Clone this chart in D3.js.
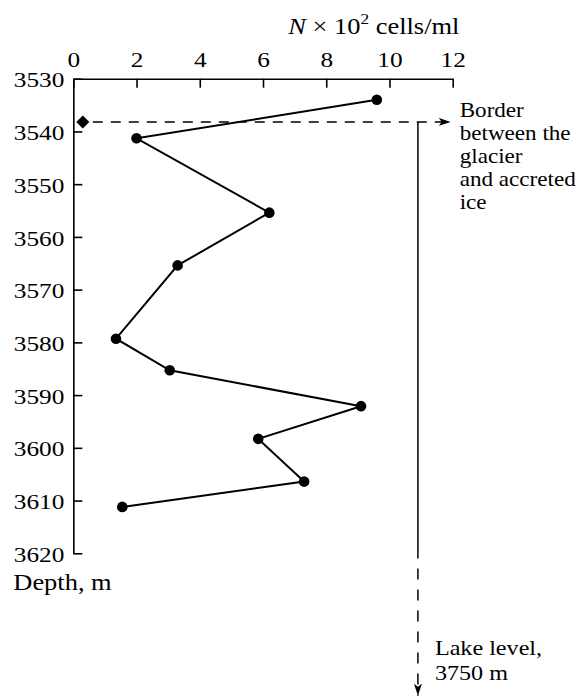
<!DOCTYPE html>
<html>
<head>
<meta charset="utf-8">
<script src="https://cdn.jsdelivr.net/npm/d3@7"></script>
<style>
  body { margin: 0; background: #fff; }
</style>
</head>
<body>
<div id="wrapper"></div>
<script>
  // DATA
  const cellCounts = [9.6, 2.0, 6.2, 3.3, 1.35, 3.05, 9.1, 5.85, 7.3, 1.55]
  const depths = [3534.0, 3541.3, 3555.4, 3565.4, 3579.3, 3585.3, 3592.1, 3598.3, 3606.4, 3611.2]
  const xTicks = [0, 2, 4, 6, 8, 10, 12]
  const yTicks = [3530, 3540, 3550, 3560, 3570, 3580, 3590, 3600, 3610, 3620]
  const borderDepth = 3538.2
  const borderMarkerX = 0.3
  const lakeLineX = 10.9
  const lakeSolidEnd = 3621
  const lakeArrowEnd = 3647
  const borderLabel = ["Border", "between the", "glacier", "and accreted", "ice"]
  const lakeLabel = ["Lake level,", "3750 m"]

  const dataset = cellCounts.map((n, i) => ({ n: n, depth: depths[i] }))
  const xAccessor = d => d.n
  const yAccessor = d => d.depth

  const serif = "'Liberation Serif', 'Times New Roman', 'DejaVu Serif', serif"
  // the scanned typeface is a bit wider than Liberation Serif
  const stretchX = 1.15

  // squeeze x attrs so a horizontal scale keeps the anchor point in place
  function stretch(sel, sx) {
    sel.each(function () {
      const t = d3.select(this)
      t.attr("x", (+t.attr("x") || 0) / sx)
        .attr("transform", `scale(${sx},1)`)
      t.selectAll("tspan").each(function () {
        const s = d3.select(this)
        if (s.attr("x") !== null) s.attr("x", +s.attr("x") / sx)
      })
    })
  }

  // DIMENSIONS
  const dimensions = {
    width: 582,
    height: 698,
    margin: { top: 78.7, right: 129.3, bottom: 144.7, left: 73.3 }
  }
  dimensions.boundedWidth = dimensions.width - dimensions.margin.left - dimensions.margin.right
  dimensions.boundedHeight = dimensions.height - dimensions.margin.top - dimensions.margin.bottom

  const wrapper = d3.select("#wrapper").append("svg")
    .attr("width", dimensions.width)
    .attr("height", dimensions.height)
    .style("font-family", serif)

  const defs = wrapper.append("defs")
  defs.append("marker")
    .attr("id", "arrow")
    .attr("viewBox", "0 0 12 8")
    .attr("refX", 12)
    .attr("refY", 4)
    .attr("markerWidth", 12)
    .attr("markerHeight", 8)
    .attr("markerUnits", "userSpaceOnUse")
    .attr("orient", "auto")
    .append("path")
    .attr("d", "M0,0 L12,4 L0,8 L3,4 Z")
    .attr("fill", "#000")

  const bounds = wrapper.append("g")
    .attr("transform", `translate(${dimensions.margin.left},${dimensions.margin.top})`)

  // SCALES
  const xScale = d3.scaleLinear()
    .domain([0, 12])
    .range([0, dimensions.boundedWidth])

  const yScale = d3.scaleLinear()
    .domain([3530, 3620])
    .range([0, dimensions.boundedHeight])

  // AXES
  const xAxisGenerator = d3.axisTop(xScale)
    .tickValues(xTicks)
    .tickSizeInner(-9)
    .tickSizeOuter(0)
    .tickPadding(12)
    .tickFormat(d3.format("d"))

  const yAxisGenerator = d3.axisLeft(yScale)
    .tickValues(yTicks)
    .tickSizeInner(-9)
    .tickSizeOuter(0)
    .tickPadding(9)
    .tickFormat(d3.format("d"))

  const xAxis = bounds.append("g").call(xAxisGenerator)
  const yAxis = bounds.append("g").call(yAxisGenerator)

  for (const axis of [xAxis, yAxis]) {
    axis.attr("font-family", null).attr("font-size", null)
    axis.selectAll(".tick line").attr("stroke-width", 1.6)
    axis.select(".domain").attr("stroke-width", 1.6)
    axis.selectAll(".tick text")
      .style("font-family", serif)
      .style("font-size", "22px")
      .attr("fill", "#000")
    stretch(axis.selectAll(".tick text"), stretchX)
  }
  yAxis.selectAll(".tick text").attr("dy", "0.37em")

  // x title
  const xTitle = bounds.append("text")
    .attr("x", xScale(6.8))
    .attr("y", -45)
    .style("font-size", "23px")
  xTitle.append("tspan").attr("font-style", "italic").text("N")
  xTitle.append("tspan").text(" \u00d7 10")
  xTitle.append("tspan").attr("dy", -10).style("font-size", "15px").text("2")
  xTitle.append("tspan").attr("dy", 10).text(" cells/ml")
  stretch(xTitle, stretchX)

  // y title
  const yTitle = bounds.append("text")
    .attr("x", -60)
    .attr("y", dimensions.boundedHeight + 37)
    .style("font-size", "23px")
    .text("Depth, m")
  stretch(yTitle, stretchX)

  // DATA LINE
  const lineGenerator = d3.line()
    .x(d => xScale(xAccessor(d)))
    .y(d => yScale(yAccessor(d)))

  bounds.append("path")
    .datum(dataset)
    .attr("d", lineGenerator)
    .attr("fill", "none")
    .attr("stroke", "#000")
    .attr("stroke-width", 2)

  bounds.selectAll("circle").data(dataset)
    .enter()
    .append("circle")
    .attr("cx", d => xScale(xAccessor(d)))
    .attr("cy", d => yScale(yAccessor(d)))
    .attr("r", 5.3)
    .attr("fill", "#000")

  // BORDER ANNOTATION
  bounds.append("path")
    .attr("d", d3.symbol().type(d3.symbolSquare).size(85))
    .attr("transform", `translate(${xScale(borderMarkerX)},${yScale(borderDepth)}) rotate(45)`)
    .attr("fill", "#000")

  bounds.append("line")
    .attr("x1", xScale(borderMarkerX) + 10)
    .attr("x2", xScale(12) - 2)
    .attr("y1", yScale(borderDepth))
    .attr("y2", yScale(borderDepth))
    .attr("stroke", "#000")
    .attr("stroke-width", 1.5)
    .attr("stroke-dasharray", "10,8")
    .attr("marker-end", "url(#arrow)")

  bounds.append("line")
    .attr("x1", xScale(lakeLineX))
    .attr("x2", xScale(lakeLineX))
    .attr("y1", yScale(borderDepth))
    .attr("y2", yScale(lakeSolidEnd))
    .attr("stroke", "#000")
    .attr("stroke-width", 1.5)

  bounds.append("line")
    .attr("x1", xScale(lakeLineX))
    .attr("x2", xScale(lakeLineX))
    .attr("y1", yScale(lakeSolidEnd) + 10)
    .attr("y2", yScale(lakeArrowEnd))
    .attr("stroke", "#000")
    .attr("stroke-width", 1.5)
    .attr("stroke-dasharray", "11,10")
    .attr("marker-end", "url(#arrow)")

  const borderText = bounds.append("text")
    .attr("x", xScale(12) + 7)
    .attr("y", 38)
    .style("font-size", "21px")
  borderText.selectAll("tspan").data(borderLabel)
    .enter().append("tspan")
    .attr("x", xScale(12) + 7)
    .attr("dy", (d, i) => i === 0 ? 0 : 23)
    .text(d => d)
  stretch(borderText, 1.1)

  const lakeText = bounds.append("text")
    .attr("x", xScale(lakeLineX) + 17)
    .attr("y", 576)
    .style("font-size", "21px")
  lakeText.selectAll("tspan").data(lakeLabel)
    .enter().append("tspan")
    .attr("x", xScale(lakeLineX) + 17)
    .attr("dy", (d, i) => i === 0 ? 0 : 25)
    .text(d => d)
  stretch(lakeText, stretchX)
</script>
</body>
</html>
